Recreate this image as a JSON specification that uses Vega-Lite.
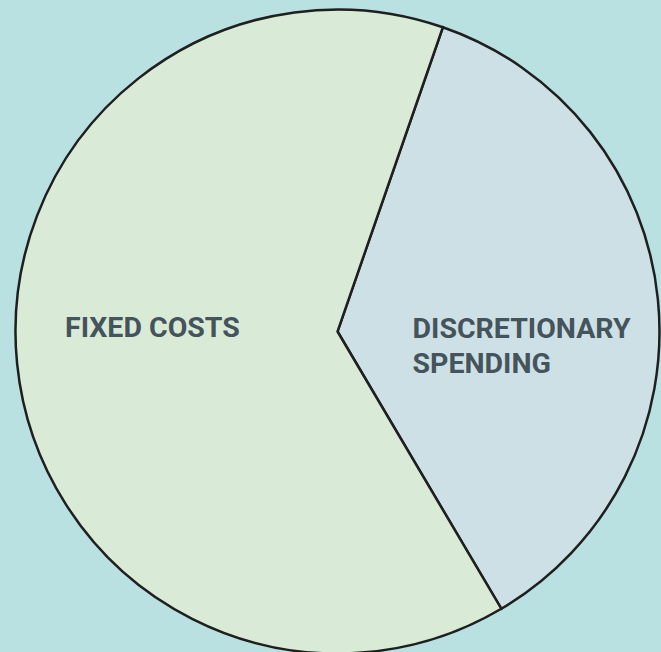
{
  "$schema": "https://vega.github.io/schema/vega-lite/v6.json",
  "width": 647,
  "height": 641,
  "padding": {"left": 14, "top": 11, "right": 0, "bottom": 0},
  "autosize": {"type": "none"},
  "background": "#b9e1e2",
  "view": {"stroke": null},
  "data": {"values": [
    {"category": "DISCRETIONARY SPENDING", "share": 36.2},
    {"category": "FIXED COSTS", "share": 63.8}
  ]},
  "encoding": {
    "theta": {"field": "share", "type": "quantitative", "stack": true, "scale": {"range": [0.3334, 6.6166]}}
  },
  "layer": [
    {
      "mark": {"type": "arc", "radius": 322, "stroke": "#1f1f1f", "strokeWidth": 2.5},
      "encoding": {
        "color": {"field": "category", "type": "nominal",
          "scale": {"domain": ["DISCRETIONARY SPENDING", "FIXED COSTS"], "range": ["#cde0e6", "#d9ebd7"]},
          "legend": null}
      }
    },
    {
      "mark": {"type": "text", "radius": 186, "dy": -22, "align": "center", "baseline": "middle",
        "font": "Roboto", "fontWeight": "bold", "fontSize": 28.5, "fill": "#45535b"},
      "encoding": {
        "detail": {"field": "category", "type": "nominal"},
        "text": {"condition": {"test": "datum.category === 'FIXED COSTS'", "field": "category"}, "value": ""}
      }
    },
    {
      "mark": {"type": "text", "radius": 75.4, "dy": 5.5, "align": "left", "baseline": "middle",
        "lineBreak": " ", "lineHeight": 35,
        "font": "Roboto", "fontWeight": "bold", "fontSize": 28.5, "fill": "#45535b"},
      "encoding": {
        "detail": {"field": "category", "type": "nominal"},
        "text": {"condition": {"test": "datum.category === 'DISCRETIONARY SPENDING'", "field": "category"}, "value": ""}
      }
    }
  ]
}
